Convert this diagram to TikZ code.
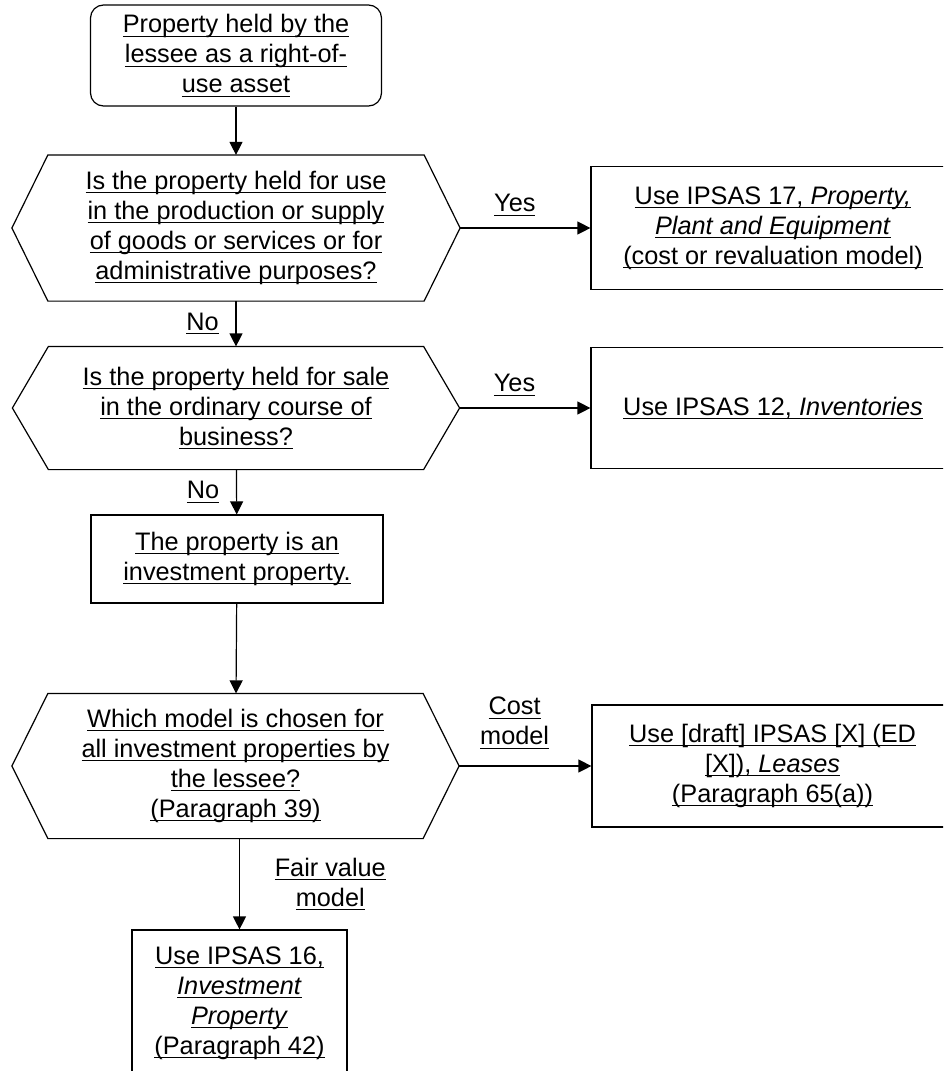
\documentclass[tikz,border=0pt]{standalone}
\usepackage{fontspec}
\setmainfont{Liberation Sans}
\usetikzlibrary{arrows.meta}
\newsavebox\undlbox
\newcommand*\undl[1]{\sbox\undlbox{#1}\rlap{\rule[-1.9pt]{\wd\undlbox}{0.5pt}}\usebox\undlbox}

\begin{document}
\begin{tikzpicture}[x=0.5pt, y=-0.5pt, line width=0.6pt,
  >={Triangle[length=6.5pt,width=6.5pt]},
  every node/.style={font=\fontsize{12.65}{15}\selectfont, align=center},
  box/.style={draw, rectangle, inner sep=0pt},
  hexbox/.style={rectangle, inner sep=0pt}]
\useasboundingbox (0,0) rectangle (943,1071);
\clip (0,0) rectangle (943,1071);

\path (236,55.5) node[box, rounded corners=6.5pt, minimum width=145.5pt, minimum height=50.5pt] (s) {\undl{Property held by the}\\\undl{lessee as a right-of-}\\\undl{use asset}};

% question boxes, outline drawn below
\path (236,228) node[hexbox, minimum width=187.5pt, minimum height=72.5pt] (q1) {\undl{Is the property held for use}\\\undl{in the production or supply}\\\undl{of goods or services or for}\\\undl{administrative purposes?}}
      (236,408) node[hexbox, minimum width=187pt, minimum height=61pt] (q2) {\undl{Is the property held for sale}\\\undl{in the ordinary course of}\\\undl{business?}}
      (235.5,766) node[hexbox, minimum width=187pt, minimum height=72pt] (q3) {\undl{Which model is chosen for}\\\undl{all investment properties by}\\\undl{the lessee?}\\\undl{(Paragraph 39)}};

\foreach \q in {q1,q2,q3} {
  \coordinate (\q l) at ([xshift=-18pt]\q.west);
  \coordinate (\q r) at ([xshift=18pt]\q.east);
  \draw (\q.north west) -- (\q.north east) -- (\q r) -- (\q.south east) -- (\q.south west) -- (\q l) -- cycle;
}

\path (237,559) node[box, minimum width=146pt, minimum height=44pt] (inv) {\undl{The property is an}\\\undl{investment property.}};

\path (773,228) node[box, minimum width=182pt, minimum height=61.5pt] (r1) {\undl{Use IPSAS 17, \textit{Property,}}\\\undl{\textit{Plant and Equipment}}\\\undl{(cost or revaluation model)}}
      (773,408) node[box, minimum width=182pt, minimum height=60.5pt] (r2) {\undl{Use IPSAS 12, \textit{Inventories}}}
      (772.5,766) node[box, minimum width=180.5pt, minimum height=61pt] (r3) {\undl{Use [draft] IPSAS [X] (ED}\\\undl{[X]), \textit{Leases}}\\\undl{(Paragraph 65(a))}}
      (239.5,1003) node[box, minimum width=107.5pt, minimum height=73pt] (r4) {\undl{Use IPSAS 16,}\\\undl{\textit{Investment}}\\\undl{\textit{Property}}\\\undl{(Paragraph 42)}};

\draw[->] (s) -- (q1);
\draw[->] (q1r) -- node[pos=0.42, above=2.5pt] {\undl{Yes}} (r1);
\draw[->] (q1) -- node[midway, left=5pt] {\undl{No}} (q2);
\draw[->] (q2r) -- node[pos=0.42, above=2.5pt] {\undl{Yes}} (r2);
\draw[->] (q2) -- node[midway, left=5pt] {\undl{No}} (inv);
\draw[->] (inv) -- (q3);
\draw[->] (q3r) -- node[pos=0.42, above=5pt] {\undl{Cost}\\\undl{model}} (r3);
\draw[->] (r4 |- q3.south) -- node[midway, right=14pt] {\undl{Fair value}\\\undl{model}} (r4);
\end{tikzpicture}
\end{document}
